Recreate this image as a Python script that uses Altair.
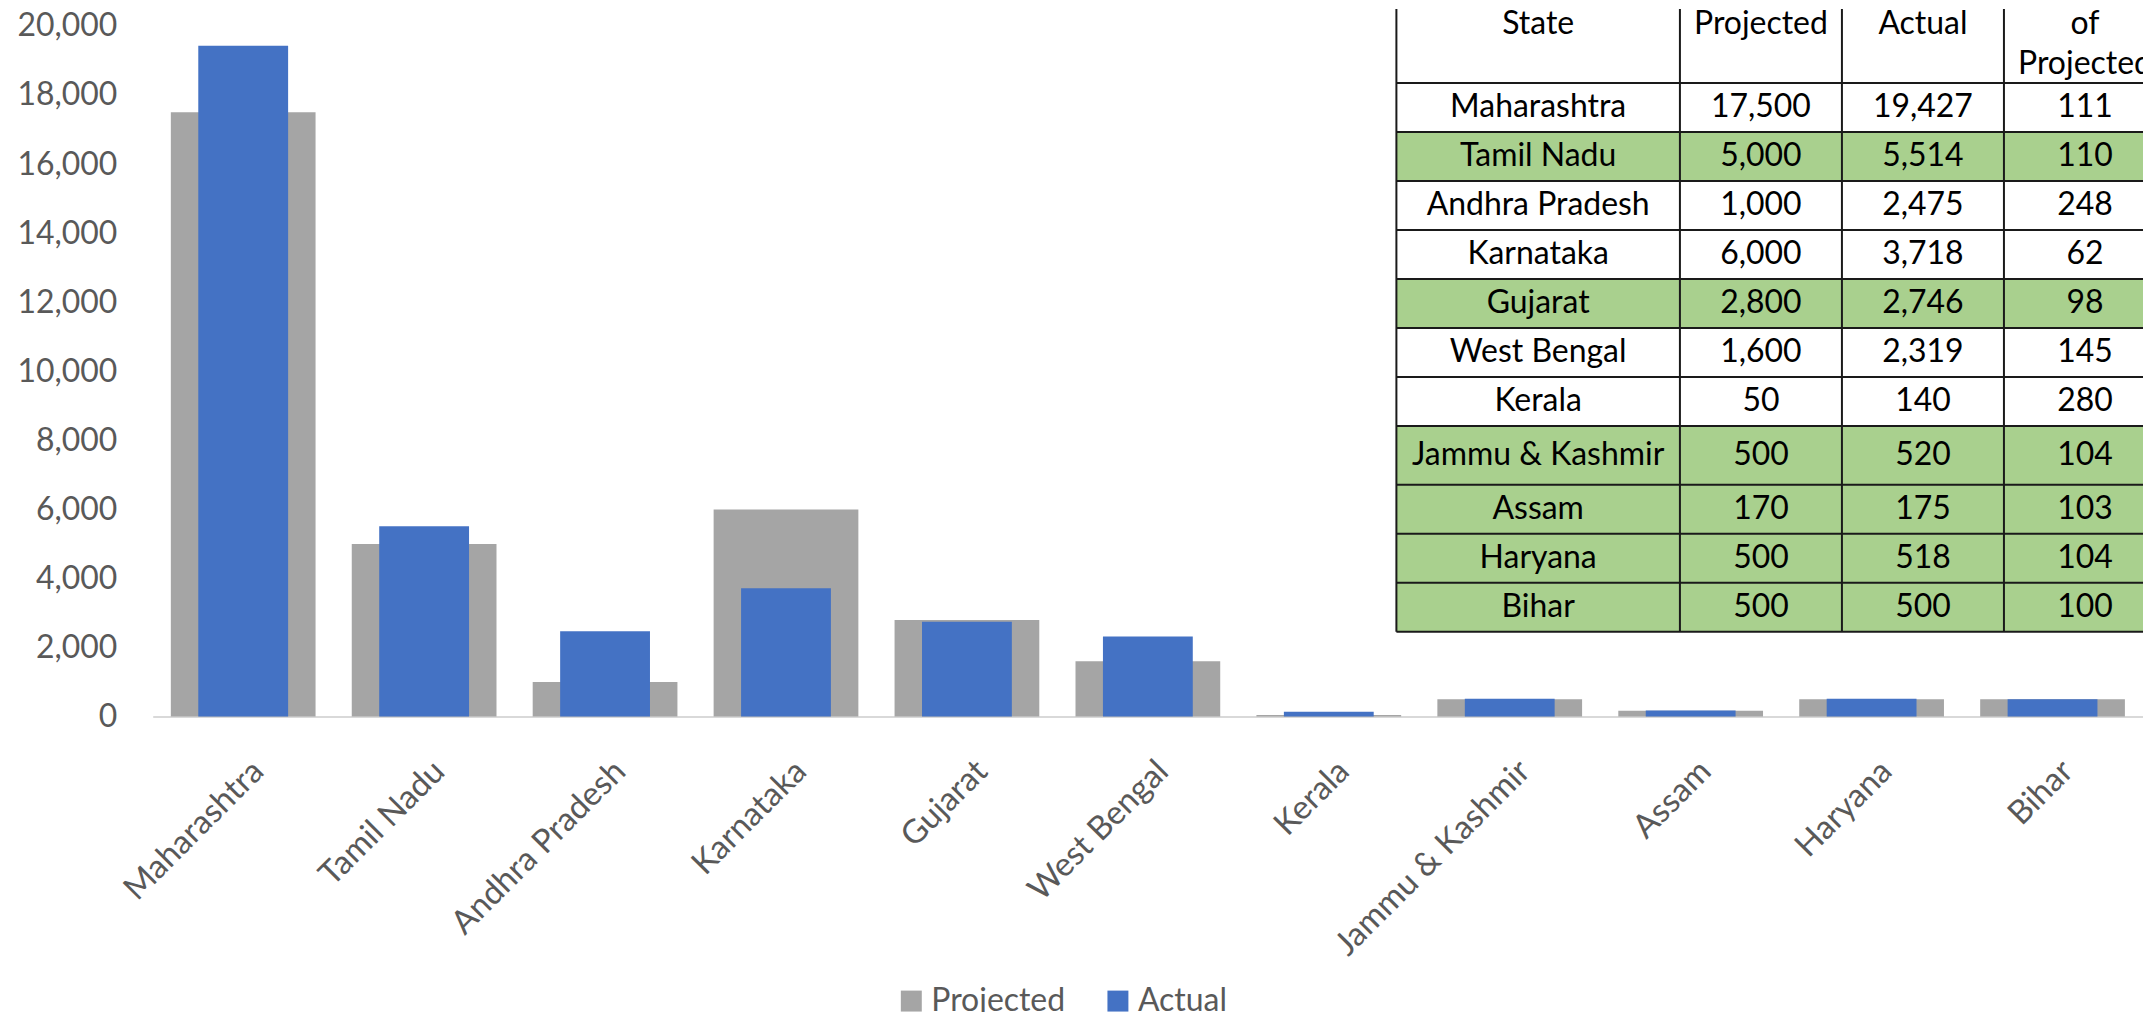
import altair as alt
import pandas as pd

# ---------------- data ----------------
states = ["Maharashtra", "Tamil Nadu", "Andhra Pradesh", "Karnataka", "Gujarat",
          "West Bengal", "Kerala", "Jammu & Kashmir", "Assam", "Haryana", "Bihar"]
projected = [17500, 5000, 1000, 6000, 2800, 1600, 50, 500, 170, 500, 500]
actual = [19427, 5514, 2475, 3718, 2746, 2319, 140, 520, 175, 518, 500]
pct_of_projected = [111, 110, 248, 62, 98, 145, 280, 104, 103, 104, 100]
highlighted = [False, True, False, False, True, False, False, True, True, True, True]
series_names = ["Projected", "Actual"]
header_line1 = ["State", "Projected", "Actual", "of"]
header_line2 = ["", "", "", "Projected"]
y_ticks = list(range(0, 20001, 2000))

# ---------------- style / layout ----------------
FONT = "Lato"
GRAY = "#A5A5A5"
BLUE = "#4472C4"
GREEN = "#A9D08E"
TXT = "#595959"
W, H = 1994, 709
Y_MAX = 20491

# table layout (relative units)
col_units = [1.75, 1, 1, 1]
header_units = 1.51
row_units = [1.2 if s == "Jammu & Kashmir" else 1.0 for s in states]

col_edges = [0.0]
for c in col_units:
    col_edges.append(col_edges[-1] + c)
col_centers = [(col_edges[i] + col_edges[i + 1]) / 2 for i in range(4)]
row_edges = [0.0, header_units]
for r in row_units:
    row_edges.append(row_edges[-1] + r)
total_units = row_edges[-1]

tx = alt.Scale(domain=[0, col_edges[-1]], range=[1246, 2017], nice=False, zero=False)
ty = alt.Scale(domain=[0, total_units], range=[0, 624], nice=False, zero=False)

# ---------------- bars ----------------
bars_df = pd.DataFrame({
    "state": states * 2,
    "series": ["Projected"] * len(states) + ["Actual"] * len(states),
    "value": projected + actual,
})

xenc = alt.X("state:N", sort=states,
             scale=alt.Scale(type="band", paddingInner=0, paddingOuter=0),
             axis=alt.Axis(title=None, labelAngle=-45, labelAlign="right", labelBaseline="top",
                           labelFontSize=33, labelFont=FONT, labelColor=TXT, labelPadding=38,
                           labelOffset=4, ticks=False, tickSize=0, domainColor="#D9D9D9",
                           domainWidth=2, grid=False, labelLimit=0))
yenc = alt.Y("value:Q", scale=alt.Scale(domain=[0, Y_MAX], nice=False, zero=True),
             axis=alt.Axis(title=None, values=y_ticks, format=",d", labelFontSize=32,
                           labelFont=FONT, labelColor=TXT, labelPadding=36, ticks=False,
                           tickSize=0, domain=False, grid=False))
cenc = alt.Color("series:N", scale=alt.Scale(domain=series_names, range=[GRAY, BLUE]),
                 legend=alt.Legend(title=None, orient="none", legendX=744, legendY=978,
                                   direction="horizontal", symbolType="square", symbolSize=441,
                                   symbolStrokeWidth=0, labelFontSize=32, labelFont=FONT,
                                   labelColor=TXT, labelOffset=4, columnPadding=36, padding=0))

proj_bars = alt.Chart(bars_df).transform_filter(alt.datum.series == "Projected").mark_bar(size=145).encode(
    x=xenc, y=yenc, color=cenc)
act_bars = alt.Chart(bars_df).transform_filter(alt.datum.series == "Actual").mark_bar(size=90).encode(
    x=xenc, y=yenc, color=cenc)
bars = alt.layer(proj_bars, act_bars)

# ---------------- table ----------------
rect_rows = [{"x0": 0, "x1": col_edges[-1], "y0": row_edges[0], "y1": row_edges[1], "fill": "white"}]
for i in range(len(states)):
    rect_rows.append({"x0": 0, "x1": col_edges[-1], "y0": row_edges[i + 1], "y1": row_edges[i + 2],
                      "fill": GREEN if highlighted[i] else "white"})
rect_df = pd.DataFrame(rect_rows)

hl_df = pd.DataFrame({"y": row_edges[1:], "x0": 0, "x1": col_edges[-1]})
vl_df = pd.DataFrame({"x": col_edges, "y0": 0, "y1": total_units})

text_rows = []
for j in range(4):
    text_rows.append({"x": col_centers[j], "y": 0.3, "t": header_line1[j]})
    if header_line2[j]:
        text_rows.append({"x": col_centers[j], "y": 1.12, "t": header_line2[j]})
for i in range(len(states)):
    yc = (row_edges[i + 1] + row_edges[i + 2]) / 2
    vals = [states[i], f"{projected[i]:,}", f"{actual[i]:,}", f"{pct_of_projected[i]}"]
    for j in range(4):
        text_rows.append({"x": col_centers[j], "y": yc, "t": vals[j]})
text_df = pd.DataFrame(text_rows)

rects = alt.Chart(rect_df).mark_rect(clip=True).encode(
    x=alt.X("x0:Q", scale=tx, axis=None), x2="x1:Q",
    y=alt.Y("y0:Q", scale=ty, axis=None), y2="y1:Q",
    fill=alt.Fill("fill:N", scale=None))
hrules = alt.Chart(hl_df).mark_rule(clip=True, color="#1a1a1a", strokeWidth=2).encode(
    x=alt.X("x0:Q", scale=tx, axis=None), x2="x1:Q",
    y=alt.Y("y:Q", scale=ty, axis=None))
vrules = alt.Chart(vl_df).mark_rule(clip=True, color="#1a1a1a", strokeWidth=2).encode(
    x=alt.X("x:Q", scale=tx, axis=None),
    y=alt.Y("y0:Q", scale=ty, axis=None), y2="y1:Q")
texts = alt.Chart(text_df).mark_text(font=FONT, fontSize=32, color="black",
                                     baseline="middle", align="center").encode(
    x=alt.X("x:Q", scale=tx, axis=None),
    y=alt.Y("y:Q", scale=ty, axis=None),
    text="t:N")
table = alt.layer(rects, hrules, vrules, texts)

chart = alt.layer(bars, table).resolve_scale(x="independent", y="independent").properties(
    width=W, height=H,
    padding={"left": 145, "top": 0, "right": 0, "bottom": 295},
    autosize=alt.AutoSizeParams(type="none"),
).configure_view(stroke=None)

chart.save("out.html", embed_options={"renderer": "svg", "actions": False})
